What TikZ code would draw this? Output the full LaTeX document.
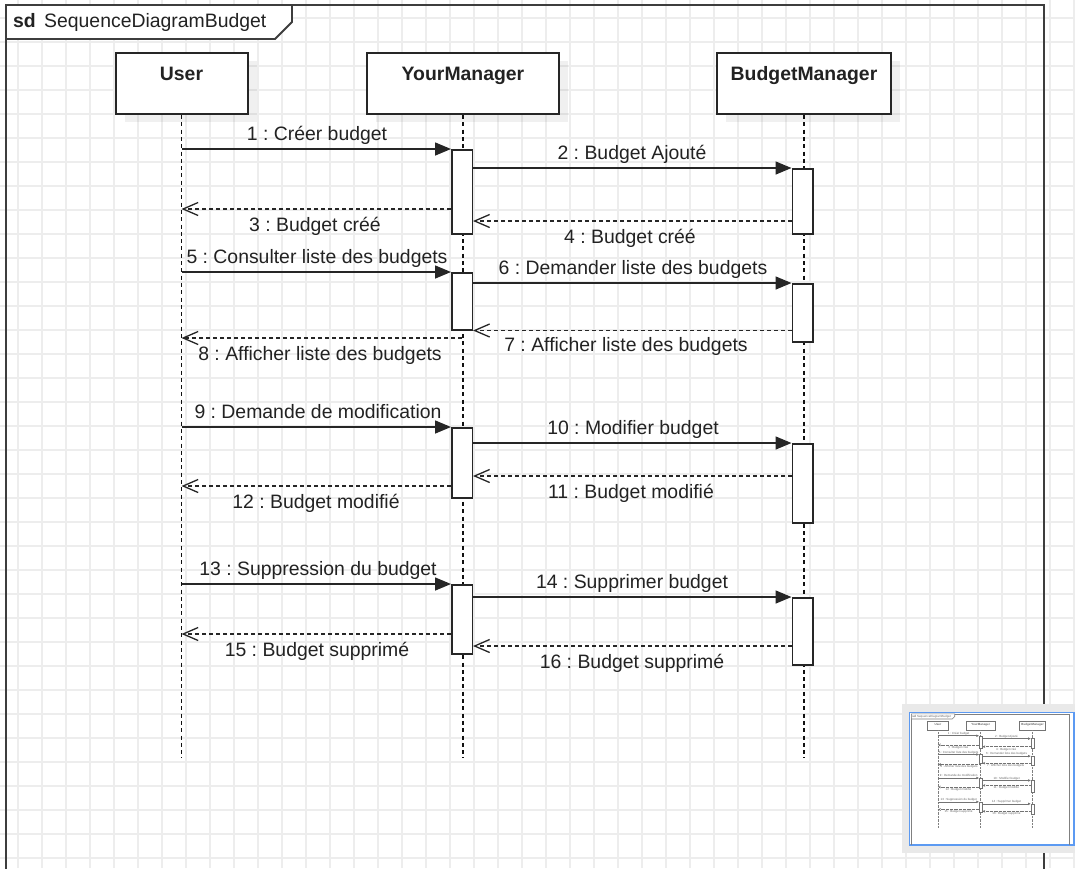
\documentclass[tikz,border=0pt]{standalone}
\usepackage{fontspec}
\setmainfont{Liberation Sans}
\usetikzlibrary{arrows.meta}
\frenchspacing
\definecolor{gridc}{HTML}{EDEDED}
\definecolor{framec}{HTML}{3D3D3D}
\definecolor{ink}{HTML}{262626}
\definecolor{txt}{HTML}{222222}
\definecolor{lifec}{HTML}{111111}
\definecolor{navblue}{HTML}{5C9AF2}
\definecolor{navgray}{HTML}{E9E9E9}
\tikzset{
 gridline/.style={draw=gridc, line width=1.3pt},
 frameline/.style={draw=framec, line width=2pt},
 tabbox/.style={draw=framec, line width=1.8pt, fill=white, line join=miter},
 headbox/.style={draw=ink, line width=2pt, fill=white, inner sep=0pt, text height=14pt, text depth=21pt, minimum height=61pt, font=\bfseries\fontsize{19.4}{23}\selectfont, text=txt},
 boxshadow/.style={fill=black, fill opacity=0.06},
 bar/.style={draw=ink, line width=1.5pt, fill=white, inner sep=0pt, minimum width=20.5pt},
 lifeline/.style={draw=lifec, line width=1.4pt, dash pattern=on 4pt off 3.3pt},
 call/.style={draw=ink, line width=1.5pt, -{Triangle[length=16pt,width=13pt]}},
 ret/.style={draw=ink, line width=1.3pt, dash pattern=on 4pt off 3pt, -{Straight Barb[length=15pt,width=13pt]}},
 lbl/.style={text=txt, inner sep=0pt, font=\fontsize{19.4}{23}\selectfont},
}
\newcommand{\sdbody}{%
 \draw[frameline] (6,1100) -- (6,5) -- (1044,5) -- (1044,1100);
 \draw[tabbox] (6,5) -- (292,5) -- (292,22) -- (275,39) -- (6,39) -- cycle;
 \node[lbl, anchor=base west] (sdkey) at (13,27) {\bfseries sd};
 \node[lbl, anchor=base west] (sdname) at (44,27) {SequenceDiagramBudget};
 % header shadows
 \fill[boxshadow] (124.5,61) rectangle (256.5,122);
 \fill[boxshadow] (376,61) rectangle (568,122);
 \fill[boxshadow] (726,61) rectangle (900,122);
 % header boxes
 \node[headbox, minimum width=132pt, anchor=north west] (user) at (114.5,52) {User};
 \node[headbox, minimum width=192pt, anchor=north west] (ym) at (366,52) {YourManager};
 \node[headbox, minimum width=174pt, anchor=north west] (bm) at (716,52) {BudgetManager};
 \coordinate (lend) at (0,758);
 \draw[lifeline] (user.south) -- (user.south |- lend);
 \draw[lifeline] (ym.south) -- (ym.south |- lend);
 \draw[lifeline] (bm.south) -- (bm.south |- lend);
 % activation bars
 \node[bar, minimum height=84pt, anchor=north] (b1) at (462,149) {};
 \node[bar, minimum height=65pt, anchor=north] (b2) at (802.5,168) {};
 \node[bar, minimum height=57pt, anchor=north] (b3) at (462,272) {};
 \node[bar, minimum height=58pt, anchor=north] (b4) at (802.5,283) {};
 \node[bar, minimum height=70pt, anchor=north] (b5) at (462,427) {};
 \node[bar, minimum height=79pt, anchor=north] (b6) at (802.5,443) {};
 \node[bar, minimum height=69pt, anchor=north] (b7) at (462,584) {};
 \node[bar, minimum height=67pt, anchor=north] (b8) at (802.5,597) {};
 % return levels
 \coordinate (y3) at (0,209);
 \coordinate (y4) at (0,221);
 \coordinate (y8) at (0,338);
 \coordinate (y11) at (0,476);
 \coordinate (y12) at (0,486);
 \coordinate (y15) at (0,634);
 \coordinate (y16) at (0,646);
 % messages
 \draw[call] (user.south |- b1.north west) -- (b1.north west);
 \draw[call] (b1.east |- b2.north west) -- (b2.north west);
 \draw[ret] (b1.west |- y3) -- (user.south |- y3);
 \draw[ret] (b2.west |- y4) -- (b1.east |- y4);
 \draw[call] (user.south |- b3.north west) -- (b3.north west);
 \draw[call] (b3.east |- b4.north west) -- (b4.north west);
 \draw[ret] (b4.west |- b3.south east) -- (b3.south east);
 \draw[ret] (b3.south |- y8) -- (user.south |- y8);
 \draw[call] (user.south |- b5.north west) -- (b5.north west);
 \draw[call] (b5.east |- b6.north west) -- (b6.north west);
 \draw[ret] (b6.west |- y11) -- (b5.east |- y11);
 \draw[ret] (b5.west |- y12) -- (user.south |- y12);
 \draw[call] (user.south |- b7.north west) -- (b7.north west);
 \draw[call] (b7.east |- b8.north west) -- (b8.north west);
 \draw[ret] (b7.west |- y15) -- (user.south |- y15);
 \draw[ret] (b8.west |- y16) -- (b7.east |- y16);
 % labels
 \node[lbl, anchor=base] (l1) at (317,140) {1 : Créer budget};
 \node[lbl, anchor=base] (l2) at (632,159) {2 : Budget Ajouté};
 \node[lbl, anchor=base] (l3) at (315,231) {3 : Budget créé};
 \node[lbl, anchor=base] (l4) at (630,243) {4 : Budget créé};
 \node[lbl, anchor=base] (l5) at (317,263) {5 : Consulter liste des budgets};
 \node[lbl, anchor=base] (l6) at (633,274) {6 : Demander liste des budgets};
 \node[lbl, anchor=base] (l7) at (626,351) {7 : Afficher liste des budgets};
 \node[lbl, anchor=base] (l8) at (320,360) {8 : Afficher liste des budgets};
 \node[lbl, anchor=base] (l9) at (318,418) {9 : Demande de modification};
 \node[lbl, anchor=base] (l10) at (633,434) {10 : Modifier budget};
 \node[lbl, anchor=base] (l11) at (631,498) {11 : Budget modifié};
 \node[lbl, anchor=base] (l12) at (316,508) {12 : Budget modifié};
 \node[lbl, anchor=base] (l13) at (318,575) {13 : Suppression du budget};
 \node[lbl, anchor=base] (l14) at (632,588) {14 : Supprimer budget};
 \node[lbl, anchor=base] (l15) at (317,656) {15 : Budget supprimé};
 \node[lbl, anchor=base] (l16) at (632,668) {16 : Budget supprimé};
}
\begin{document}
\begin{tikzpicture}[x=1pt, y=-1pt]
 \useasboundingbox (0,0) rectangle (1075,868);
 \clip (0,0) rectangle (1075,868);
 \fill[white] (0,0) rectangle (1075,868);
 % grid
 \foreach \i in {0,...,44} { \draw[gridline] (18+24*\i,0) -- (18+24*\i,868); }
 \foreach \j in {0,...,35} { \draw[gridline] (0,18+24*\j) -- (1075,18+24*\j); }
 % diagram
 \sdbody
 % navigator thumbnail
 \fill[navgray] (902,704) rectangle (1080,853);
 \draw[navblue, line width=1.5pt, fill=white] (909.5,712.5) rectangle (1074,845);
 \begin{scope}
  \clip (910.3,713.3) rectangle (1073.2,844.2);
  \begin{scope}[shift={(910.4,713.1)}, scale=0.152, every node/.append style={transform shape}]
   \colorlet{ink}{black!55}
   \colorlet{txt}{black!60}
   \colorlet{framec}{black!50}
   \colorlet{lifec}{black!50}
   \tikzset{
    frameline/.append style={line width=0.7pt},
    tabbox/.append style={line width=0.6pt},
    headbox/.append style={line width=0.9pt},
    bar/.append style={line width=0.6pt},
    lifeline/.style={draw=lifec, line width=0.5pt, dash pattern=on 0.8pt off 0.6pt},
    call/.style={draw=ink, line width=0.6pt, -{Triangle[length=2.6pt,width=2.2pt]}},
    ret/.style={draw=ink, line width=0.5pt, dash pattern=on 0.8pt off 0.5pt, -{Straight Barb[length=2.3pt,width=2.1pt]}},
    boxshadow/.style={fill=none},
   }
   \sdbody
  \end{scope}
 \end{scope}
\end{tikzpicture}
\end{document}
